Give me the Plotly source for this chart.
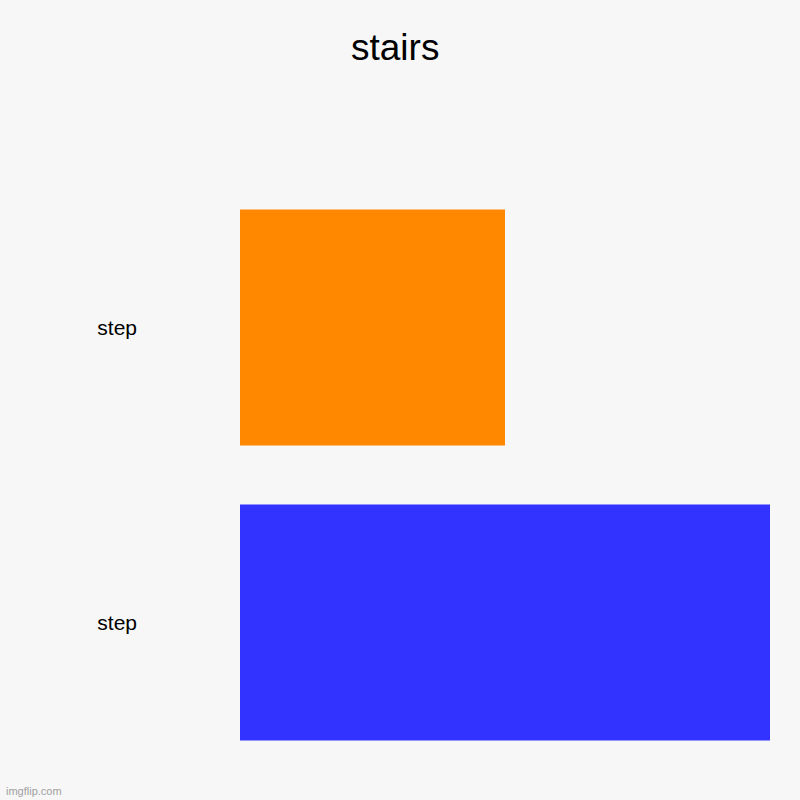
import plotly.graph_objects as go

# chart data
labels = ["step", "step"]
values = [2, 1]
colors = ["#3333ff", "#ff8800"]
title = "stairs"

positions = list(range(len(labels)))

fig = go.Figure()
fig.add_trace(go.Bar(
    x=values,
    y=positions,
    orientation="h",
    marker=dict(color=colors, line=dict(width=0)),
    showlegend=False,
))

fig.update_layout(
    width=800,
    height=800,
    paper_bgcolor="#f7f7f7",
    plot_bgcolor="#f7f7f7",
    margin=dict(l=240, r=30, t=180, b=30),
    bargap=0.2,
    font=dict(family="Liberation Sans, Arial, sans-serif", color="#000000"),
    title=dict(text=title, x=0.494, xanchor="center", y=1 - 47 / 800,
               yanchor="middle", font=dict(size=37)),
)
fig.update_xaxes(range=[0, max(values)], showgrid=False, zeroline=False,
                 showticklabels=False, showline=False)
fig.update_yaxes(tickvals=positions, ticktext=labels, showgrid=False,
                 zeroline=False, showline=False, ticks="",
                 tickfont=dict(size=21), ticklabelstandoff=102,
                 range=[-0.5, len(labels) - 0.5])

fig.add_annotation(text="imgflip.com", xref="paper", yref="paper",
                   x=-236 / 530, y=-21 / 590, xanchor="left", yanchor="middle",
                   showarrow=False, font=dict(size=11, color="#a0a0a0"))

# page has a default body margin; drop it so the figure sits at 0,0
fig.write_html("out.html", config={"displayModeBar": False},
               post_script="document.body.style.margin='0';")
